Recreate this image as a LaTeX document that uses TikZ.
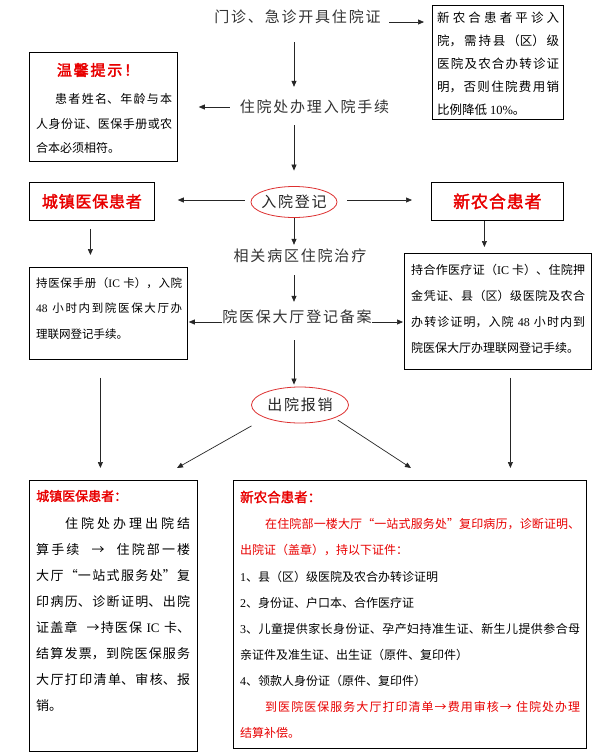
\documentclass[tikz,border=0pt]{standalone}
\usepackage{fontspec}
\setmainfont{Noto Sans CJK SC}
\newfontfamily\cjkls[LetterSpace=12]{Noto Sans CJK SC}
\newfontfamily\cjkbold[FakeBold=2]{Noto Sans CJK SC}
\newfontfamily\cjkboldls[FakeBold=2,LetterSpace=5]{Noto Sans CJK SC}
\newfontfamily\cjkboldlsb[FakeBold=2.5,LetterSpace=12]{Noto Sans CJK SC}
\newfontfamily\latf{Liberation Serif}
\usetikzlibrary{arrows.meta,shapes.geometric}
\XeTeXlinebreaklocale "zh"
\XeTeXlinebreakskip=0pt plus 1pt
\definecolor{tred}{HTML}{E80000}
\definecolor{ered}{HTML}{DD3030}
\newcommand\pfont[2]{\fontsize{#1}{#2}\selectfont\lineskiplimit=-100pt\lineskip=0pt\tolerance=10000\hbadness=10000\parindent=0pt}
\newcommand\fl[1]{\leavevmode\rule{0pt}{#1pt}}
\tikzset{
  bx/.style={draw=black, line width=0.8pt, anchor=north west, inner sep=0pt},
  ctext/.style={font=\cjkls\fontsize{15}{15}\selectfont, text=black!80, inner sep=0pt, text height=12pt, text depth=1.5pt},
  ell/.style={ellipse, draw=ered, line width=0.8pt, inner sep=0pt, font=\cjkls\fontsize{15}{15}\selectfont, text=black!85},
  para/.style={anchor=north west, inner sep=0pt, text width=#1, align=justify},
  arr/.style={-{Triangle[length=6pt,width=5pt]}, line width=0.7pt, draw=black!85},
  redtitle/.style={text=tred, inner sep=0pt},
}
\begin{document}
\begin{tikzpicture}[x=1pt,y=-1pt]
\fill[white] (0,0) rectangle (609,756);
\useasboundingbox (0,0) rectangle (609,756);

% boxes
\node[bx, minimum width=148pt, minimum height=109pt] (tip) at (29,52) {};
\node[bx, minimum width=131pt, minimum height=114pt] (rb1) at (432,5) {};
\node[bx, minimum width=125pt, minimum height=38pt, font=\cjkboldls\fontsize{16}{16}\selectfont, text=tred] (lb1) at (29,182) {城镇医保患者};
\node[bx, minimum width=132pt, minimum height=38pt, font=\cjkboldls\fontsize{17}{17}\selectfont, text=tred] (rb2) at (431,182) {新农合患者};
\node[bx, minimum width=158pt, minimum height=92pt] (lb2) at (29,267) {};
\node[bx, minimum width=187pt, minimum height=116pt] (rb3) at (404,253) {};
\node[bx, minimum width=168pt, minimum height=271pt] (lbot) at (29,480) {};
\node[bx, minimum width=353pt, minimum height=268pt] (rbot) at (233,480) {};

% central flow texts
\node[ctext] (t1) at (297.5,17) {门诊、急诊开具住院证};
\node[ctext] (t2) at (314.5,107) {住院处办理入院手续};
\node[ctext] (t3) at (300,256) {相关病区住院治疗};
\node[ctext] (t4) at (297,317) {院医保大厅登记备案};
\node[ell, minimum width=86pt, minimum height=31pt] (e1) at (294,202) {\makebox[0pt]{入院登记}};
\node[ell, minimum width=97pt, minimum height=36pt] (e2) at (300,405) {\makebox[0pt]{出院报销}};

% texts in boxes
\node[redtitle, font=\cjkboldlsb\fontsize{15}{15}\selectfont] (tipt) at (98,70) {温馨提示！};
\node[para=136pt, font=\pfont{12}{24.5}] (tipb) at (36,91.6) {\fl{12}\hspace*{19pt}患者姓名、年龄与本\linebreak 人身份证、医保手册或农\linebreak 合本必须相符。};
\node[para=122pt, font=\pfont{12.5}{23}] (rb1t) at (437,10.2) {\fl{12.5}新农合患者平诊入\linebreak 院，需持县（区）级\linebreak 医院及农合办转诊证\linebreak 明，否则住院费用销\linebreak 比例降低 {\latf 10\%}。};
\node[para=146pt, font=\pfont{11.5}{25.5}] (lb2t) at (36,275.6) {\fl{11.5}持医保手册（{\latf IC} 卡），入院\linebreak {\latf 48} 小时内到院医保大厅办\linebreak 理联网登记手续。};
\node[para=174pt, font=\pfont{12}{26}] (rb3t) at (411,262.6) {\fl{12}持合作医疗证（{\latf IC} 卡）、住院押\linebreak 金凭证、县（区）级医院及农合\linebreak 办转诊证明，入院 {\latf 48} 小时内到\linebreak 院医保大厅办理联网登记手续。};

\node[redtitle, anchor=west, font=\cjkbold\fontsize{13}{13}\selectfont] (lbt) at (36,496) {城镇医保患者：};
\node[para=154pt, font=\pfont{13}{26}] (lbb) at (36,515) {\fl{13}\hspace*{29pt}住院处办理出院结\linebreak 算手续\ \ →\ \ 住院部一楼\linebreak 大厅“一站式服务处”复\linebreak 印病历、诊断证明、出院\linebreak 证盖章\ \ →持医保 {\latf IC} 卡、\linebreak 结算发票，到院医保服务\linebreak 大厅打印清单、审核、报\linebreak 销。};

\node[redtitle, anchor=west, font=\cjkbold\fontsize{13.5}{13.5}\selectfont] (rbt) at (240,497) {新农合患者：};
\node[para=340pt, font=\pfont{12}{26.1}] (rbb) at (240,516.6) {\fl{12}\color{tred}\hspace*{25pt}在住院部一楼大厅“一站式服务处”复印病历，诊断证明、\linebreak 出院证（盖章），持以下证件：\newline \color{black}{\latf 1}、县（区）级医院及农合办转诊证明\newline {\latf 2}、身份证、户口本、合作医疗证\newline {\latf 3}、儿童提供家长身份证、孕产妇持准生证、新生儿提供参合母\linebreak 亲证件及准生证、出生证（原件、复印件）\newline {\latf 4}、领款人身份证（原件、复印件）\newline \color{tred}\hspace*{25pt}到医院医保服务大厅打印清单→费用审核→ 住院处办理\linebreak 结算补偿。};

% free ends of the diagonal connectors
\coordinate (dl) at (177,468);
\coordinate (dr) at (411,468);

% central vertical arrows
\draw[arr, shorten <=18.25pt, shorten >=13.25pt] (t1.south -| e1.north) -- (t2.north -| e1.north);
\draw[arr, shorten <=11.25pt, shorten >=15.5pt] (t2.south -| e1.north) -- (e1.north);
\draw[arr, shorten <=0.5pt, shorten >=4.25pt] (e1.south) -- (t3.north -| e1.south);
\draw[arr, shorten <=12.25pt, shorten >=8.25pt] (t3.south -| e1.south) -- (t4.north -| e1.south);
\draw[arr, shorten <=16.25pt, shorten >=2pt] (t4.south -| e1.south) -- (e2.north -| e1.south);

% horizontal arrows
\draw[arr, shorten <=8.5pt, shorten >=8pt] ([yshift=-5pt]t1.east) -- ([yshift=-5pt]t1.east -| rb1.west);
\draw[arr, shorten <=10pt, shorten >=21pt] (t2.west) -- (t2.west -| tip.east);
\draw[arr, shorten <=6pt, shorten >=23pt] ([yshift=2pt]e1.west) -- ([yshift=2pt]e1.west -| lb1.east);
\draw[arr, shorten <=10pt, shorten >=19pt] ([yshift=2pt]e1.east) -- ([yshift=2pt]e1.east -| rb2.west);
\draw[arr, shorten >=1pt] ([yshift=-5pt]t4.west) -- ([yshift=-5pt]t4.west -| lb2.east);
\draw[arr, shorten >=1pt] ([yshift=-5pt]t4.east) -- ([yshift=-5pt]t4.east -| rb3.west);

% side vertical arrows
\draw[arr, shorten <=8pt, shorten >=12pt] ([xshift=-1.5pt]lb1.south) -- ([xshift=-1.5pt]lb1.south |- lb2.north);
\draw[arr, shorten <=0pt, shorten >=6pt] ([xshift=-13pt]rb2.south) -- ([xshift=-13pt]rb2.south |- rb3.north);
\draw[arr, shorten <=18pt, shorten >=12pt] ([xshift=-8pt]lb2.south) -- ([xshift=-8pt]lb2.south |- lbot.north);
\draw[arr, shorten <=8pt, shorten >=12pt] ([xshift=12.5pt]rb3.south) -- ([xshift=12.5pt]rb3.south |- rbot.north);

% diagonal arrows
\draw[arr, shorten <=16pt] (e2.south west) -- (dl);
\draw[arr, shorten <=4pt] (e2.south east) -- (dr);
\end{tikzpicture}
\end{document}
